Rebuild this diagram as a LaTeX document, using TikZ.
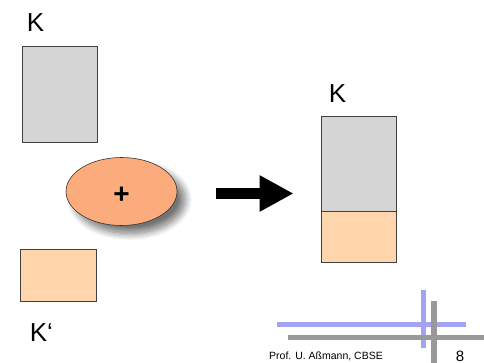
\documentclass[tikz,border=0pt]{standalone}
\usepackage{fontspec}
\setmainfont{Liberation Sans}
\usepackage{tikz}
\usetikzlibrary{positioning}
\usetikzlibrary{shapes.geometric}
\usetikzlibrary{arrows.meta}
\usetikzlibrary{shadows.blur}
\definecolor{partgray}{HTML}{D5D5D5}
\definecolor{partpeach}{HTML}{FFD6AB}
\definecolor{opsalmon}{HTML}{FCAC7C}
\definecolor{barblue}{HTML}{A3A3F5}
\definecolor{bargray}{HTML}{999999}
\tikzset{x=1pt, y=-1pt,
	part/.style={
		draw=black!75,
		line width=0.8pt,
		inner sep=0pt},
	basepart/.style={part, fill=partgray},
	extpart/.style={part, fill=partpeach},
	name tag/.style={
		inner sep=0pt,
		font=\fontsize{26}{28}\selectfont},
	operator/.style={
		ellipse,
		draw=black!80,
		line width=0.6pt,
		fill=opsalmon,
		minimum width=111pt,
		minimum height=68pt,
		font=\bfseries\fontsize{28}{30}\selectfont,
		blur shadow={shadow xshift=8pt, shadow yshift=-8pt, shadow blur radius=7pt, shadow blur steps=12, shadow opacity=55}},
	fatarrow/.style={
		draw,
		line width=11pt,
		-{Triangle[length=34pt, width=34pt]}},
	bar/.style={line width=5pt}
}
\begin{document}
\begin{tikzpicture}
	\useasboundingbox (0,0) rectangle (484,363);
	% left side: K and K'
	\node[basepart, minimum width=75pt, minimum height=96pt] (k) at (59.5,94) {};
	\node[extpart, minimum width=76pt, minimum height=52pt] (kp) at (58,275) {};
	\node[name tag, above=14pt of k.north west, anchor=south west, xshift=5pt] (klabel) {K};
	\node[name tag, below=22pt of kp.south west, anchor=north west, xshift=10pt] (kplabel) {K‘};
	\node[operator] (plus) at (121.5,191.5) {\raisebox{-12pt}[0pt][0pt]{+}};
	% result
	\node[basepart, minimum width=75pt, minimum height=95pt] (kres) at (358.5,163.5) {};
	\node[extpart, minimum width=75pt, minimum height=51pt, below=0pt of kres] (kresext) {};
	\node[name tag, above=13pt of kres.north west, anchor=south west, xshift=8pt] (kreslabel) {K};
	\draw[fatarrow, shorten <=94.5pt, shorten >=27pt] (plus.center) ++(0,2) coordinate (from) -- (from -| kres.west);
	% footer
	\draw[bar, barblue] (277,324) -- (466,324);
	\draw[bar, barblue] (423,290) -- (423,348);
	\draw[bar, bargray] (288,337) -- (484,337);
	\draw[bar, bargray, line width=6pt] (434,301) -- (434,363);
	\node[anchor=base east, inner sep=0pt, font=\fontsize{10.5}{12}\selectfont] (author) at (383,359) {Prof. U. Aßmann, CBSE};
	\node[anchor=base, inner sep=0pt, font=\fontsize{15}{16}\selectfont] (page) at (460,361) {8};
\end{tikzpicture}
\end{document}
